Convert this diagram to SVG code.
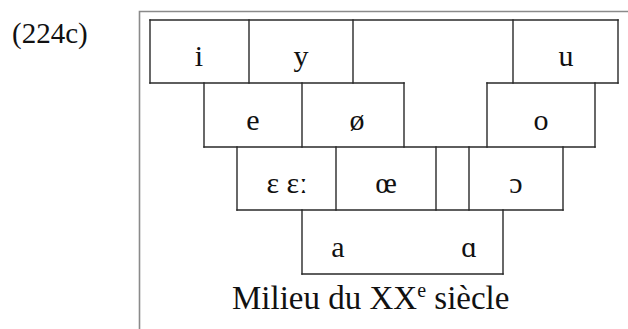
<svg xmlns="http://www.w3.org/2000/svg" width="628" height="329" viewBox="0 0 628 329">
<style>
.frame{stroke:#8a8a8a;stroke-width:1.6;fill:none}
.g{stroke:#2a2a2a;stroke-width:1.4;fill:none;stroke-linecap:square}
.t{font-family:"Liberation Serif","DejaVu Serif",serif;font-size:30px;fill:#111;text-anchor:middle}
.cap{font-family:"Liberation Serif","DejaVu Serif",serif;font-size:33px;fill:#111}
.lab{font-family:"Liberation Serif","DejaVu Serif",serif;font-size:29px;fill:#111}
</style>
<rect width="628" height="329" fill="#fff"/>
<text id="label" class="lab" x="12" y="43">(224c)</text>
<g id="frame"><path class="frame" d="M139.5,329 V11.5 H628"/></g>
<g id="connectors">
<path class="g" d="M150,20 H618 M150,83 H404 M487,83 H618 M204,147 H595 M237,210 H563 M302,274 H503"/>
<path class="g" d="M150,20 V83 M249,20 V83 M353,20 V83 M513,20 V83 M618,20 V83"/>
<path class="g" d="M204,83 V147 M302,83 V147 M404,83 V147 M487,83 V147 M595,83 V147"/>
<path class="g" d="M237,147 V210 M336,147 V210 M436,147 V210 M469,147 V210 M563,147 V210"/>
<path class="g" d="M302,210 V274 M503,210 V274"/>
</g>
<g id="n-i"><text class="t" x="199" y="66">i</text></g>
<g id="n-y"><text class="t" x="301" y="66">y</text></g>
<g id="n-u"><text class="t" x="566" y="66">u</text></g>
<g id="n-e"><text class="t" x="253" y="130">e</text></g>
<g id="n-oslash"><text class="t" x="357" y="130">ø</text></g>
<g id="n-o"><text class="t" x="541" y="130">o</text></g>
<g id="n-epsilon"><text class="t" x="287" y="193">ɛ ɛː</text></g>
<g id="n-oe"><text class="t" x="386" y="193">œ</text></g>
<g id="n-openo"><text class="t" x="516" y="193">ɔ</text></g>
<g id="n-a"><text class="t" x="338" y="257">a</text></g>
<g id="n-alpha"><text class="t" x="469" y="257">ɑ</text></g>
<g id="caption"><text class="cap" x="232" y="309">Milieu du XX<tspan font-size="20" dy="-12">e</tspan><tspan dy="12"> siècle</tspan></text></g>
</svg>
